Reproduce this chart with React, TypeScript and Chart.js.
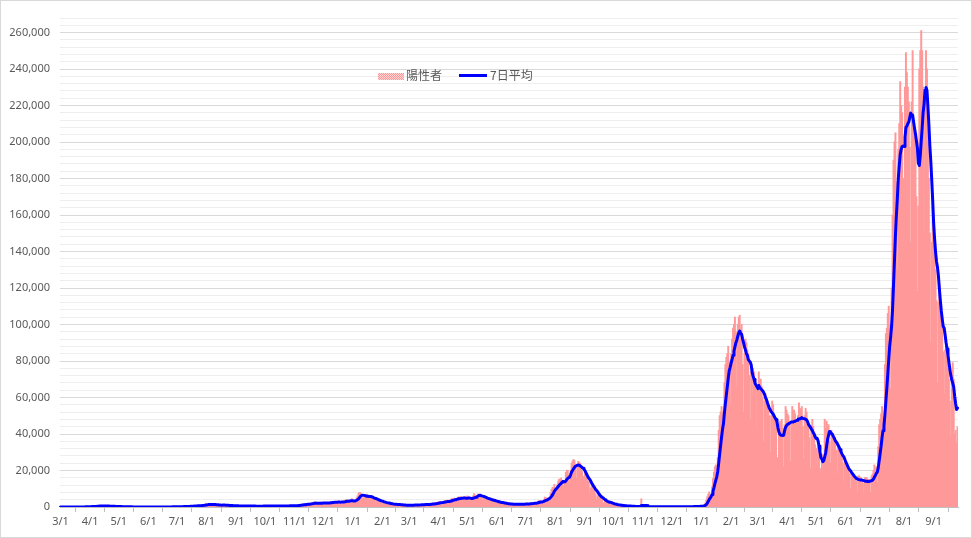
import React, { useEffect, useRef } from 'react';
import { Chart, registerables } from 'chart.js';

Chart.register(...registerables);

// Daily positives, 2020-03-01 .. 2020-12-31 (weekly rows, Sunday first)
const positives2020 = [
  13, 15, 14, 33, 28, 34, 51,
  36, 24, 50, 52, 53, 62, 63,
  35, 15, 39, 44, 35, 39, 53,
  43, 38, 65, 93, 97, 123, 200,
  173, 84, 243, 266, 235, 359, 366,
  383, 252, 351, 503, 582, 658, 720,
  507, 389, 457, 549, 586, 576, 584,
  373, 348, 385, 432, 423, 440, 367,
  201, 174, 277, 201, 193, 165, 294,
  201, 122, 87, 123, 99, 106, 84,
  58, 53, 80, 55, 51, 99, 45,
  31, 56, 28, 39, 20, 27, 43,
  21, 21, 32, 34, 40, 53, 39,
  44, 36, 51, 37, 43, 48, 38,
  45, 33, 37, 44, 40, 52, 60,
  72, 35, 40, 41, 70, 68, 71,
  58, 49, 38, 86, 104, 102, 111,
  110, 87, 84, 125, 194, 250, 276,
  210, 136, 203, 251, 355, 288, 390,
  412, 263, 332, 450, 623, 592, 664,
  510, 414, 630, 795, 981, 770, 842,
  814, 598, 982, 1263, 1301, 1580, 1536,
  1331, 1236, 1237, 1356, 1485, 1595, 1565,
  1440, 842, 700, 990, 1180, 1360, 1230,
  1010, 590, 900, 1240, 1060, 1035, 850,
  740, 520, 730, 850, 850, 800, 680,
  580, 440, 600, 590, 660, 590, 560,
  470, 290, 510, 620, 640, 650, 580,
  430, 270, 500, 550, 620, 570, 610,
  420, 270, 300, 440, 500, 480, 640,
  500, 300, 500, 630, 630, 580, 580,
  440, 290, 490, 640, 660, 630, 610,
  490, 290, 470, 620, 700, 650, 620,
  420, 320, 430, 630, 680, 720, 740,
  600, 470, 490, 730, 800, 770, 870,
  620, 480, 790, 950, 1040, 1100, 1320,
  1200, 930, 1290, 1550, 1650, 1670, 1730,
  1440, 950, 1690, 2200, 2390, 2420, 2590,
  2170, 1520, 1230, 1940, 2500, 2510, 2680,
  2050, 1430, 2030, 2420, 2510, 2430, 2510,
  2110, 1490, 2160, 2810, 2960, 3040, 3040,
  2400, 1680, 2400, 3030, 3200, 2990, 2990,
  2490, 2060, 2560, 3270, 3730, 3820, 3880,
  2970, 2390, 3050, 3790, 4520,
];

// Daily positives, 2021-01-01 .. 2021-12-31
const positives2021 = [
  3160, 3060,
  3140, 3320, 4910, 6010, 7560, 7880, 7790,
  6090, 4870, 4540, 5870, 6590, 6550, 7000,
  5760, 3770, 4900, 5640, 5650, 4940, 4720,
  3970, 2760, 3850, 3950, 3550, 3540, 3340,
  2680, 1790, 2320, 2630, 2580, 2370, 2280,
  1890, 1220, 1570, 1530, 1890, 1580, 1360,
  1360, 1040, 1320, 1520, 1360, 1280, 1240,
  1040, 740, 840, 1090, 1070, 1060, 1000,
  960, 670, 970, 1180, 1170, 1150, 1060,
  1060, 740, 1130, 1300, 1280, 1320, 1320,
  1250, 960, 1300, 1500, 1500, 1470, 1530,
  1320, 1120, 1520, 1920, 2000, 2000, 2080,
  1780, 1260, 2080, 2600, 2840, 2760, 2760,
  2470, 1570, 2640, 3450, 3450, 3430, 3700,
  2780, 1950, 3460, 4310, 4570, 4530, 4800,
  4090, 2920, 4340, 5290, 5510, 5120, 5610,
  4600, 3310, 4900, 5780, 4630, 4680, 5990,
  5160, 3810, 4090, 4400, 4070, 6050, 7240,
  6460, 4650, 6250, 7060, 6870, 6270, 6410,
  5220, 3670, 5230, 5710, 5150, 4770, 4440,
  3680, 2760, 4060, 4200, 3990, 3430, 3620,
  2690, 1720, 2650, 2980, 2810, 2560, 2600,
  2010, 1340, 2000, 2250, 1980, 1940, 1880,
  1390, 940, 1420, 1720, 1790, 1660, 1550,
  1310, 1000, 1420, 1760, 1680, 1730, 1640,
  1420, 1070, 1560, 1890, 1780, 1840, 1840,
  1660, 1300, 1890, 2140, 2280, 2270, 2400,
  2050, 1480, 2570, 3190, 3420, 3410, 3100,
  2330, 2330, 3750, 5390, 5010, 4210, 4940,
  4690, 4700, 7630, 9580, 10690, 10740, 12340,
  10160, 8370, 12020, 14210, 15260, 14710, 15750,
  14450, 12070, 10850, 13470, 18890, 20150, 20020,
  17420, 13690, 19980, 23860, 25140, 25990, 25490,
  22280, 15580, 21570, 24940, 24470, 23800, 22060,
  19350, 12930, 16770, 20020, 16990, 16410, 14200,
  13460, 8230, 10410, 12410, 11040, 10380, 8730,
  7220, 4170, 6040, 6810, 5600, 5560, 4880,
  4170, 2230, 2210, 3220, 3580, 2750, 2990,
  2130, 1150, 1990, 2060, 1770, 1580, 1440,
  1130, 880, 900, 1190, 1090, 940, 780,
  650, 370, 610, 740, 630, 600, 500,
  430, 250, 370, 390, 350, 320, 330,
  280, 160, 280, 300, 300, 280, 4400,
  210, 110, 190, 230, 200, 170, 190,
  160, 100, 150, 200, 210, 180, 170,
  130, 80, 130, 170, 140, 120, 130,
  110, 50, 80, 120, 130, 120, 110,
  90, 80, 100, 130, 140, 130, 110,
  100, 70, 130, 150, 160, 140, 140,
  120, 80, 150, 170, 180, 190, 200,
  160, 120, 210, 240, 260, 270, 280,
  240, 210, 380, 400, 500, 500,
];

// Daily positives, 2022-01-01 .. 2022-09-26
const positives2022 = [
  530,
  550, 780, 1100, 2100, 3700, 5500, 7000,
  8200, 6400, 6300, 11000, 15500, 19000, 22000,
  23000, 19000, 27000, 42000, 50000, 52000, 55000,
  52000, 42000, 68000, 78000, 82000, 84000, 88000,
  80000, 56000, 84000, 92000, 98000, 100000, 104000,
  96000, 66000, 100000, 104000, 105000, 92000, 100000,
  78000, 52000, 84000, 92000, 90000, 86000, 84000,
  72000, 48000, 74000, 62000, 76000, 74000, 70000,
  64000, 42000, 66000, 74000, 68000, 70000, 66000,
  60000, 36000, 58000, 62000, 60000, 58000, 55000,
  50000, 30000, 50000, 58000, 56000, 50000, 48000,
  44000, 21000, 27000, 42000, 47000, 46000, 48000,
  43000, 22000, 45000, 55000, 53000, 51000, 50000,
  45000, 25000, 47000, 55000, 53000, 53000, 51000,
  47000, 27000, 50000, 57000, 54000, 53000, 55000,
  44000, 26000, 50000, 54000, 52000, 47000, 44000,
  38000, 21000, 43000, 48000, 44000, 41000, 34000,
  32000, 22000, 33000, 28000, 21000, 19000, 29000,
  22000, 26000, 48000, 43000, 47000, 45000, 45000,
  36000, 24000, 42000, 40000, 39000, 38000, 36000,
  31000, 18000, 35000, 33000, 30000, 29000, 28000,
  24000, 14000, 25000, 23000, 22000, 21000, 20000,
  18000, 10000, 19000, 18000, 17000, 16000, 16000,
  14000, 8000, 17000, 17000, 16000, 16000, 15000,
  13000, 7000, 16000, 16000, 16000, 15000, 15000,
  14000, 8000, 17000, 18000, 20000, 23000, 21000,
  22000, 13000, 33000, 45000, 48000, 51000, 55000,
  48000, 30000, 78000, 95000, 98000, 106000, 110000,
  100000, 65000, 120000, 160000, 190000, 200000, 205000,
  178000, 130000, 196000, 210000, 233000, 220000, 216000,
  180000, 128000, 230000, 249000, 238000, 230000, 222000,
  197000, 145000, 222000, 250000, 212000, 205000, 200000,
  170000, 118000, 165000, 240000, 250000, 261000, 250000,
  230000, 150000, 218000, 250000, 240000, 200000, 180000,
  150000, 90000, 145000, 172000, 152000, 140000, 130000,
  113000, 68000, 112000, 122000, 108000, 100000, 98000,
  85000, 62000, 86000, 92000, 84000, 76000, 70000,
  58000, 38000, 70000, 79000, 70000, 40000, 42000,
  35000, 44000,
];

const FIRST_DAY_UTC = Date.UTC(2020, 2, 1);
const Y_MAX = 268000;
const Y_STEP = 4000;
const Y_LABEL_STEP = 20000;
const BAR_LABEL = '陽性者';
const LINE_LABEL = '7日平均';

const positives = [...positives2020, ...positives2021, ...positives2022];
const dayLabels: string[] = positives.map((_, i) => {
  const d = new Date(FIRST_DAY_UTC + i * 86400000);
  return `${d.getUTCMonth() + 1}/${d.getUTCDate()}`;
});
const average7 = positives.map((_, i) => {
  const w = positives.slice(Math.max(0, i - 6), i + 1);
  return w.reduce((a, b) => a + b, 0) / w.length;
});

const AXIS_FONT = { family: '"Noto Sans", "Open Sans", sans-serif', size: 11 };
const TEXT_GREY = '#595959';

export default function App() {
  const ref = useRef<HTMLCanvasElement>(null);
  useEffect(() => {
    if (!ref.current) return;
    const chart = new Chart(ref.current, {
      type: 'bar',
      data: {
        labels: dayLabels,
        datasets: [
          {
            type: 'line',
            label: LINE_LABEL,
            data: average7,
            borderColor: '#0000ff',
            backgroundColor: '#0000ff',
            borderWidth: 3,
            borderJoinStyle: 'round',
            borderCapStyle: 'round',
            pointRadius: 0,
            fill: false,
            tension: 0,
            order: 0,
          } as any,
          {
            type: 'bar',
            label: BAR_LABEL,
            data: positives,
            backgroundColor: '#ff9999',
            borderWidth: 0,
            barPercentage: 1,
            categoryPercentage: 1,
            inflateAmount: 0.5,
            order: 1,
          } as any,
        ],
      },
      options: {
        animation: false,
        responsive: false,
        devicePixelRatio: 1,
        layout: { padding: { top: 17, right: 13, left: 0, bottom: 0 } },
        plugins: { legend: { display: false }, tooltip: { enabled: false } },
        scales: {
          x: {
            grid: {
              display: true,
              drawOnChartArea: false,
              drawTicks: true,
              tickLength: 5,
              color: '#bfbfbf',
            },
            border: { display: true, color: '#bfbfbf' },
            ticks: {
              autoSkip: false,
              maxRotation: 0,
              minRotation: 0,
              padding: 3,
              color: TEXT_GREY,
              font: AXIS_FONT,
              callback: (_v: any, i: number) => {
                const l = dayLabels[i];
                return l.split('/')[1] === '1' ? l : null;
              },
            },
            afterFit: (s: any) => {
              s.height = 30;
            },
          },
          y: {
            min: 0,
            max: Y_MAX,
            ticks: {
              stepSize: Y_STEP,
              autoSkip: false,
              padding: 10,
              color: TEXT_GREY,
              font: AXIS_FONT,
              callback: (v: any) =>
                Number(v) % Y_LABEL_STEP === 0 ? Number(v).toLocaleString('en-US') : '',
            },
            grid: {
              drawTicks: false,
              color: (ctx: any) =>
                ctx.tick && ctx.tick.value % Y_LABEL_STEP === 0 ? '#d9d9d9' : '#eeeeee',
            },
            border: { display: false },
            afterFit: (s: any) => {
              s.width = 59;
            },
          },
        },
      },
    });
    return () => chart.destroy();
  }, []);

  const legendText: React.CSSProperties = {
    position: 'absolute',
    fontFamily: '"Noto Sans CJK JP", "Noto Sans", sans-serif',
    fontSize: 12,
    lineHeight: '16px',
    color: TEXT_GREY,
    whiteSpace: 'nowrap',
  };

  return (
    <div
      style={{
        position: 'fixed',
        left: 0,
        top: 0,
        width: 972,
        height: 538,
        border: '1px solid #d9d9d9',
        boxSizing: 'border-box',
        background: '#ffffff',
      }}
    >
      <canvas ref={ref} width={970} height={536} style={{ display: 'block' }} />
      <div
        style={{
          position: 'absolute',
          left: 377,
          top: 72,
          width: 26,
          height: 7,
          background:
            'repeating-conic-gradient(#ff9999 0% 25%, #ffd6d6 0% 50%) 0 0 / 2px 2px',
        }}
      />
      <div style={{ ...legendText, left: 405, top: 66 }}>{BAR_LABEL}</div>
      <div
        style={{
          position: 'absolute',
          left: 458,
          top: 73,
          width: 28,
          height: 3,
          background: '#0000ff',
        }}
      />
      <div style={{ ...legendText, left: 489, top: 66 }}>{LINE_LABEL}</div>
    </div>
  );
}
